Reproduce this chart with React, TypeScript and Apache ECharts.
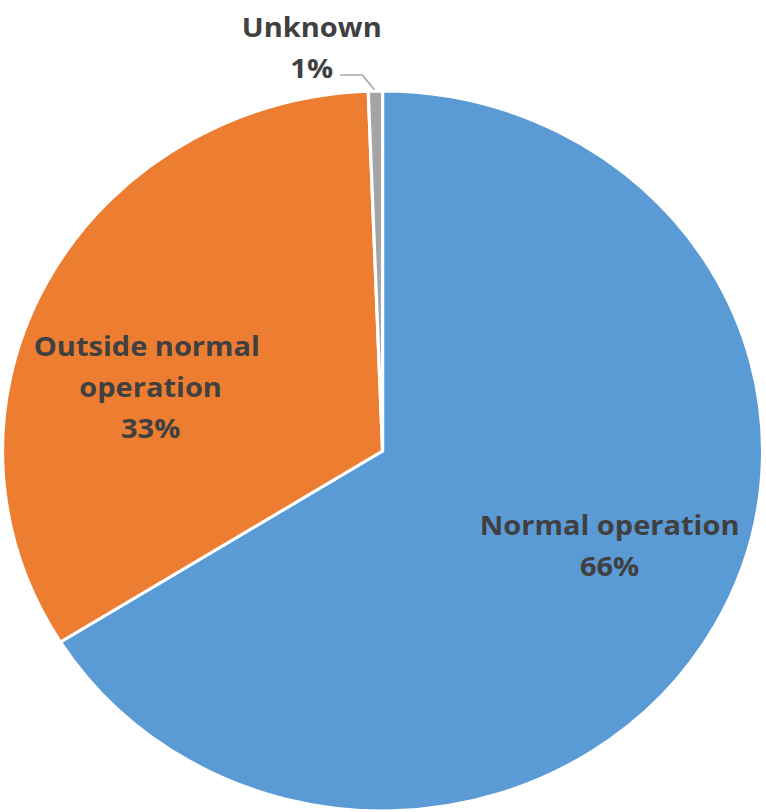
import React, { useEffect, useRef } from 'react';
import * as echarts from 'echarts';

const categories = ['Normal operation', 'Outside normal operation', 'Unknown'];
const values = [66.1, 33.3, 0.6];
const colors = ['#5B9BD5', '#ED7D31', '#A5A5A5'];

const SX = 1.0556;
const CHART_W = 726;
const CHART_H = 812;

export default function App() {
  const ref = useRef<HTMLDivElement>(null);
  useEffect(() => {
    const chart = echarts.init(ref.current!, null, { renderer: 'svg' });
    const textBase = {
      color: '#404040',
      fontFamily: 'Open Sans',
      fontWeight: 'bold' as const,
      fontSize: 27.5,
      lineHeight: 41,
      formatter: '{b}\n{d}%',
    };
    chart.setOption({
      animation: false,
      backgroundColor: '#ffffff',
      series: [
        {
          type: 'pie',
          center: [362.4, 451],
          radius: 360,
          startAngle: 90,
          clockwise: true,
          avoidLabelOverlap: false,
          percentPrecision: 0,
          itemStyle: { borderColor: '#ffffff', borderWidth: 3 },
          label: { ...textBase },
          labelLayout: (p: any) => {
            if (p.dataIndex === 0) return { dx: 55, dy: 5 };
            if (p.dataIndex === 1) return { dx: -58, dy: 21 };
            const pts = p.labelLinePoints;
            const out: any = { dx: -22, dy: -28, align: 'center' };
            if (pts && pts.length === 3) {
              out.labelLinePoints = [
                [pts[0][0], pts[0][1]],
                [pts[1][0] - 12, pts[1][1]],
                [pts[2][0], pts[2][1]],
              ];
            }
            return out;
          },
          data: categories.map((name, i) => ({
            name,
            value: values[i],
            itemStyle: { color: colors[i] },
            label:
              i === 2
                ? { ...textBase, position: 'outside', distanceToLabelLine: 5 }
                : { ...textBase, position: 'inside', width: i === 1 ? 240 : 320, overflow: 'break' },
            labelLine:
              i === 2
                ? { show: true, length: 16, length2: 33, lineStyle: { color: '#A5A5A5', width: 1.5 } }
                : { show: false },
          })),
        },
      ],
    });
    return () => chart.dispose();
  }, []);
  return (
    <div
      style={{
        position: 'fixed',
        left: 0,
        top: 0,
        width: 766,
        height: 812,
        overflow: 'hidden',
        background: '#ffffff',
      }}
    >
      <div
        ref={ref}
        style={{
          width: CHART_W,
          height: CHART_H,
          transform: `scaleX(${SX})`,
          transformOrigin: '0 0',
        }}
      />
    </div>
  );
}
